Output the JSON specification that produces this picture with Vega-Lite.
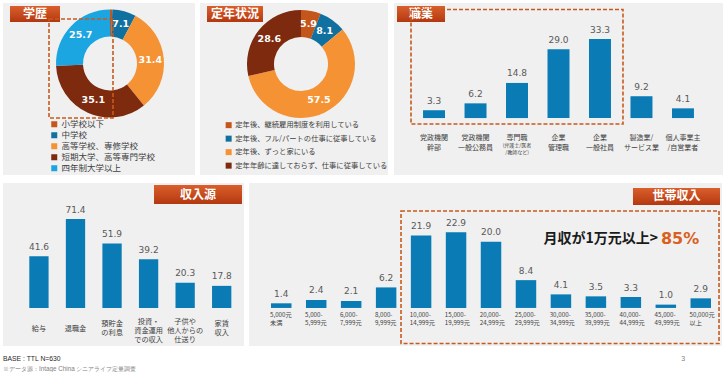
{
  "$schema": "https://vega.github.io/schema/vega-lite/v6.json",
  "background": "white",
  "padding": {"left": 3, "top": 3, "right": 0, "bottom": 0},
  "config": {
    "view": {"fill": "#F0F0F0", "stroke": null},
    "text": {"font": "Noto Sans CJK JP"}
  },
  "spacing": 8,
  "resolve": {"scale": {"x": "independent", "y": "independent", "color": "independent", "theta": "independent"}, "legend": {"color": "independent"}},
  "vconcat": [
    {
      "hconcat": [
        {
          "width": 192, "height": 172,
          "data": {"values": [
            {"k": "小学校以下", "v": 0.7, "i": 1},
            {"k": "中学校", "v": 7.1, "i": 2},
            {"k": "高等学校、専修学校", "v": 31.4, "i": 3},
            {"k": "短期大学、高等専門学校", "v": 35.1, "i": 4},
            {"k": "四年制大学以上", "v": 25.7, "i": 5}
          ]},
          "layer": [
            {
              "mark": {"type": "arc", "innerRadius": 27, "outerRadius": 54},
              "encoding": {
                "x": {"datum": 55.73, "type": "quantitative", "scale": {"domain": [0, 100], "nice": false}, "axis": null},
                "y": {"datum": 35.17, "type": "quantitative", "scale": {"domain": [0, 100], "nice": false, "reverse": true}, "axis": null},
                "theta": {"field": "v", "type": "quantitative", "stack": true},
                "order": {"field": "i", "type": "quantitative"},
                "color": {"field": "k", "type": "nominal",
                  "scale": {"domain": ["小学校以下", "中学校", "高等学校、専修学校", "短期大学、高等専門学校", "四年制大学以上"],
                            "range": ["#C4561C", "#10709F", "#F59233", "#7D2A0E", "#1BA5E1"]},
                  "legend": {"title": null, "orient": "none", "legendX": 47, "legendY": 117, "symbolType": "square", "symbolSize": 36, "symbolStrokeWidth": 0, "symbolOpacity": 1, "labelFontSize": 8.5, "labelFont": "Noto Sans CJK JP", "labelColor": "#404040", "rowPadding": 2, "labelOffset": 3, "padding": 0}}
              }
            },
            {
              "mark": {"type": "text", "radius": 40.5, "fill": "white", "fontWeight": "bold", "fontSize": 9.5, "font": "DejaVu Sans"},
              "encoding": {
                "x": {"datum": 55.73, "type": "quantitative", "scale": {"domain": [0, 100], "nice": false}, "axis": null},
                "y": {"datum": 35.17, "type": "quantitative", "scale": {"domain": [0, 100], "nice": false, "reverse": true}, "axis": null},
                "theta": {"field": "v", "type": "quantitative", "stack": true},
                "order": {"field": "i", "type": "quantitative"},
                "text": {"condition": {"test": "datum.v < 1", "value": ""}, "field": "v", "type": "quantitative", "format": ".1f"}
              }
            },
            {
              "data": {"values": [{}]},
              "mark": {"type": "rect", "fill": {"gradient": "linear", "x1": 0, "y1": 0, "x2": 0, "y2": 1, "stops": [{"offset": 0, "color": "#DA5F2C"}, {"offset": 1, "color": "#B4380F"}]}},
              "encoding": {
                "x": {"datum": 3.65, "type": "quantitative", "scale": {"domain": [0, 100], "nice": false}, "axis": null},
                "x2": {"datum": 29.69},
                "y": {"datum": 1.74, "type": "quantitative", "scale": {"domain": [0, 100], "nice": false, "reverse": true}, "axis": null},
                "y2": {"datum": 11.05}
              }
            },
            {
              "data": {"values": [{}]},
              "mark": {"type": "text", "fill": "white", "fontWeight": "bold", "fontSize": 12, "baseline": "middle"},
              "encoding": {
                "x": {"datum": 16.67, "type": "quantitative", "scale": {"domain": [0, 100], "nice": false}, "axis": null},
                "y": {"datum": 6.4, "type": "quantitative", "scale": {"domain": [0, 100], "nice": false, "reverse": true}, "axis": null},
                "text": {"value": "学歴"}
              }
            },
            {
              "data": {"values": [{}]},
              "mark": {"type": "rect", "filled": false, "stroke": "#C65A1E", "strokeWidth": 1.6, "strokeDash": [4, 2]},
              "encoding": {
                "x": {"datum": 23.96, "type": "quantitative", "scale": {"domain": [0, 100], "nice": false}, "axis": null},
                "x2": {"datum": 57.29},
                "y": {"datum": 9.3, "type": "quantitative", "scale": {"domain": [0, 100], "nice": false, "reverse": true}, "axis": null},
                "y2": {"datum": 66.86}
              }
            }
          ]
        },
        {
          "width": 188, "height": 172,
          "data": {"values": [
            {"k": "定年後、継続雇用制度を利用している", "v": 5.9, "i": 1},
            {"k": "定年後、フル/パートの仕事に従事している", "v": 8.1, "i": 2},
            {"k": "定年後、ずっと家にいる", "v": 57.5, "i": 3},
            {"k": "定年年齢に達しておらず、仕事に従事している", "v": 28.6, "i": 4}
          ]},
          "layer": [
            {
              "mark": {"type": "arc", "innerRadius": 27, "outerRadius": 54},
              "encoding": {
                "x": {"datum": 53.72, "type": "quantitative", "scale": {"domain": [0, 100], "nice": false}, "axis": null},
                "y": {"datum": 35.47, "type": "quantitative", "scale": {"domain": [0, 100], "nice": false, "reverse": true}, "axis": null},
                "theta": {"field": "v", "type": "quantitative", "stack": true},
                "order": {"field": "i", "type": "quantitative"},
                "color": {"field": "k", "type": "nominal",
                  "scale": {"domain": ["定年後、継続雇用制度を利用している", "定年後、フル/パートの仕事に従事している", "定年後、ずっと家にいる", "定年年齢に達しておらず、仕事に従事している"],
                            "range": ["#C4561C", "#10709F", "#F59233", "#7D2A0E"]},
                  "legend": {"title": null, "orient": "none", "legendX": 25, "legendY": 118.5, "symbolType": "square", "symbolSize": 36, "symbolStrokeWidth": 0, "symbolOpacity": 1, "labelFontSize": 7.3, "labelFont": "Noto Sans CJK JP", "labelColor": "#404040", "rowPadding": 5.5, "labelOffset": 3, "padding": 0, "labelLimit": 200}}
              }
            },
            {
              "mark": {"type": "text", "radius": 40.5, "fill": "white", "fontWeight": "bold", "fontSize": 9.5, "font": "DejaVu Sans"},
              "encoding": {
                "x": {"datum": 53.72, "type": "quantitative", "scale": {"domain": [0, 100], "nice": false}, "axis": null},
                "y": {"datum": 35.47, "type": "quantitative", "scale": {"domain": [0, 100], "nice": false, "reverse": true}, "axis": null},
                "theta": {"field": "v", "type": "quantitative", "stack": true},
                "order": {"field": "i", "type": "quantitative"},
                "text": {"field": "v", "type": "quantitative", "format": ".1f"}
              }
            },
            {
              "data": {"values": [{}]},
              "mark": {"type": "rect", "fill": {"gradient": "linear", "x1": 0, "y1": 0, "x2": 0, "y2": 1, "stops": [{"offset": 0, "color": "#DA5F2C"}, {"offset": 1, "color": "#B4380F"}]}},
              "encoding": {
                "x": {"datum": 3.72, "type": "quantitative", "scale": {"domain": [0, 100], "nice": false}, "axis": null},
                "x2": {"datum": 33.51},
                "y": {"datum": 1.74, "type": "quantitative", "scale": {"domain": [0, 100], "nice": false, "reverse": true}, "axis": null},
                "y2": {"datum": 11.05}
              }
            },
            {
              "data": {"values": [{}]},
              "mark": {"type": "text", "fill": "white", "fontWeight": "bold", "fontSize": 12, "baseline": "middle"},
              "encoding": {
                "x": {"datum": 18.62, "type": "quantitative", "scale": {"domain": [0, 100], "nice": false}, "axis": null},
                "y": {"datum": 6.4, "type": "quantitative", "scale": {"domain": [0, 100], "nice": false, "reverse": true}, "axis": null},
                "text": {"value": "定年状況"}
              }
            }
          ]
        },
        {
          "width": 329, "height": 172,
          "layer": [
            {
              "data": {"values": [
                {"cat": "党政機関幹部", "lines": ["党政機関", "幹部"], "v": 3.3},
                {"cat": "党政機関一般公務員", "lines": ["党政機関", "一般公務員"], "v": 6.2},
                {"cat": "専門職", "lines": ["専門職"], "sub": ["(弁護士/医者", "/教師など)"], "v": 14.8},
                {"cat": "企業管理職", "lines": ["企業", "管理職"], "v": 29.0},
                {"cat": "企業一般社員", "lines": ["企業", "一般社員"], "v": 33.3},
                {"cat": "製造業/サービス業", "lines": ["製造業/", "サービス業"], "v": 9.2},
                {"cat": "個人事業主/自営業者", "lines": ["個人事業主", "/自営業者"], "v": 4.1}
              ]},
              "layer": [
                {
                  "mark": {"type": "bar", "color": "#0A7BB5"},
                  "encoding": {
                    "x": {"field": "cat", "type": "nominal", "sort": null, "scale": {"paddingInner": 0.47, "paddingOuter": 0.7, "align": 0.5}, "axis": null},
                    "y": {"field": "v", "type": "quantitative", "scale": {"domain": [-24, 48.5], "nice": false}, "axis": null}
                  }
                },
                {
                  "mark": {"type": "text", "font": "DejaVu Sans", "fontSize": 9, "color": "#595959", "baseline": "alphabetic", "dy": -6.5},
                  "encoding": {
                    "x": {"field": "cat", "type": "nominal", "sort": null, "scale": {"paddingInner": 0.47, "paddingOuter": 0.7, "align": 0.5}, "axis": null},
                    "y": {"field": "v", "type": "quantitative", "scale": {"domain": [-24, 48.5], "nice": false}, "axis": null},
                    "text": {"field": "v", "type": "quantitative", "format": ".1f"}
                  }
                },
                {
                  "mark": {"type": "text", "fontSize": 7, "color": "#404040", "baseline": "top", "dy": 15.5, "lineHeight": 10},
                  "encoding": {
                    "x": {"field": "cat", "type": "nominal", "sort": null, "scale": {"paddingInner": 0.47, "paddingOuter": 0.7, "align": 0.5}, "axis": null},
                    "y": {"datum": 0, "type": "quantitative", "scale": {"domain": [-24, 48.5], "nice": false}, "axis": null},
                    "text": {"field": "lines", "type": "nominal"}
                  }
                },
                {
                  "transform": [{"filter": "datum.sub != null"}],
                  "mark": {"type": "text", "fontSize": 5, "color": "#404040", "baseline": "top", "dy": 24.5, "lineHeight": 7},
                  "encoding": {
                    "x": {"field": "cat", "type": "nominal", "sort": null, "scale": {"paddingInner": 0.47, "paddingOuter": 0.7, "align": 0.5}, "axis": null},
                    "y": {"datum": 0, "type": "quantitative", "scale": {"domain": [-24, 48.5], "nice": false}, "axis": null},
                    "text": {"field": "sub", "type": "nominal"}
                  }
                }
              ]
            },
            {
              "data": {"values": [{}]},
              "layer": [
                {
                  "mark": {"type": "rect", "fill": {"gradient": "linear", "x1": 0, "y1": 0, "x2": 0, "y2": 1, "stops": [{"offset": 0, "color": "#DA5F2C"}, {"offset": 1, "color": "#B4380F"}]}},
                  "encoding": {
                    "x": {"datum": 0.91, "type": "quantitative", "scale": {"domain": [0, 100], "nice": false}, "axis": null},
                    "x2": {"datum": 15.5},
                    "y": {"datum": 1.74, "type": "quantitative", "scale": {"domain": [0, 100], "nice": false, "reverse": true}, "axis": null},
                    "y2": {"datum": 11.05}
                  }
                },
                {
                  "mark": {"type": "text", "fill": "white", "fontWeight": "bold", "fontSize": 12, "baseline": "middle"},
                  "encoding": {
                    "x": {"datum": 8.21, "type": "quantitative", "scale": {"domain": [0, 100], "nice": false}, "axis": null},
                    "y": {"datum": 6.4, "type": "quantitative", "scale": {"domain": [0, 100], "nice": false, "reverse": true}, "axis": null},
                    "text": {"value": "職業"}
                  }
                },
                {
                  "mark": {"type": "rect", "filled": false, "stroke": "#C65A1E", "strokeWidth": 1.6, "strokeDash": [4, 2]},
                  "encoding": {
                    "x": {"datum": 5.17, "type": "quantitative", "scale": {"domain": [0, 100], "nice": false}, "axis": null},
                    "x2": {"datum": 69.6},
                    "y": {"datum": 3.78, "type": "quantitative", "scale": {"domain": [0, 100], "nice": false, "reverse": true}, "axis": null},
                    "y2": {"datum": 70.35}
                  }
                }
              ]
            }
          ],
          "resolve": {"scale": {"x": "independent", "y": "independent"}}
        }
      ],
      "spacing": 5,
      "resolve": {"scale": {"x": "independent", "y": "independent", "color": "independent", "theta": "independent"}, "legend": {"color": "independent"}}
    },
    {
      "hconcat": [
        {
          "width": 241, "height": 163,
          "layer": [
            {
              "data": {"values": [
                {"cat": "給与", "lines": ["給与"], "v": 41.6},
                {"cat": "退職金", "lines": ["退職金"], "v": 71.4},
                {"cat": "預貯金の利息", "lines": ["預貯金", "の利息"], "v": 51.9},
                {"cat": "投資・資金運用での収入", "lines": ["投資・", "資金運用", "での収入"], "v": 39.2},
                {"cat": "子供や他人からの仕送り", "lines": ["子供や", "他人からの", "仕送り"], "v": 20.3},
                {"cat": "家賃収入", "lines": ["家賃", "収入"], "v": 17.8}
              ]},
              "layer": [
                {
                  "mark": {"type": "bar", "color": "#0A7BB5"},
                  "encoding": {
                    "x": {"field": "cat", "type": "nominal", "sort": null, "scale": {"paddingInner": 0.472, "paddingOuter": 0.533, "align": 0.675}, "axis": null},
                    "y": {"field": "v", "type": "quantitative", "scale": {"domain": [-30.5, 100.4], "nice": false}, "axis": null}
                  }
                },
                {
                  "mark": {"type": "text", "font": "DejaVu Sans", "fontSize": 9, "color": "#595959", "baseline": "alphabetic", "dy": -6.5},
                  "encoding": {
                    "x": {"field": "cat", "type": "nominal", "sort": null, "scale": {"paddingInner": 0.472, "paddingOuter": 0.533, "align": 0.675}, "axis": null},
                    "y": {"field": "v", "type": "quantitative", "scale": {"domain": [-30.5, 100.4], "nice": false}, "axis": null},
                    "text": {"field": "v", "type": "quantitative", "format": ".1f"}
                  }
                },
                {
                  "transform": [{"filter": "length(datum.lines) == 1"}],
                  "mark": {"type": "text", "fontSize": 7.2, "color": "#404040", "baseline": "middle", "dy": 21, "lineHeight": 9},
                  "encoding": {
                    "x": {"field": "cat", "type": "nominal", "sort": null, "scale": {"paddingInner": 0.472, "paddingOuter": 0.533, "align": 0.675}, "axis": null},
                    "y": {"datum": 0, "type": "quantitative", "scale": {"domain": [-30.5, 100.4], "nice": false}, "axis": null},
                    "text": {"field": "lines", "type": "nominal"}
                  }
                },
                {
                  "transform": [{"filter": "length(datum.lines) == 2"}],
                  "mark": {"type": "text", "fontSize": 7.2, "color": "#404040", "baseline": "middle", "dy": 16, "lineHeight": 9},
                  "encoding": {
                    "x": {"field": "cat", "type": "nominal", "sort": null, "scale": {"paddingInner": 0.472, "paddingOuter": 0.533, "align": 0.675}, "axis": null},
                    "y": {"datum": 0, "type": "quantitative", "scale": {"domain": [-30.5, 100.4], "nice": false}, "axis": null},
                    "text": {"field": "lines", "type": "nominal"}
                  }
                },
                {
                  "transform": [{"filter": "length(datum.lines) == 3"}],
                  "mark": {"type": "text", "fontSize": 7.2, "color": "#404040", "baseline": "middle", "dy": 14, "lineHeight": 9},
                  "encoding": {
                    "x": {"field": "cat", "type": "nominal", "sort": null, "scale": {"paddingInner": 0.472, "paddingOuter": 0.533, "align": 0.675}, "axis": null},
                    "y": {"datum": 0, "type": "quantitative", "scale": {"domain": [-30.5, 100.4], "nice": false}, "axis": null},
                    "text": {"field": "lines", "type": "nominal"}
                  }
                }
              ]
            },
            {
              "data": {"values": [{}]},
              "layer": [
                {
                  "mark": {"type": "rect", "fill": {"gradient": "linear", "x1": 0, "y1": 0, "x2": 0, "y2": 1, "stops": [{"offset": 0, "color": "#DA5F2C"}, {"offset": 1, "color": "#B4380F"}]}},
                  "encoding": {
                    "x": {"datum": 62.66, "type": "quantitative", "scale": {"domain": [0, 100], "nice": false}, "axis": null},
                    "x2": {"datum": 99.17},
                    "y": {"datum": 1.23, "type": "quantitative", "scale": {"domain": [0, 100], "nice": false, "reverse": true}, "axis": null},
                    "y2": {"datum": 12.88}
                  }
                },
                {
                  "mark": {"type": "text", "fill": "white", "fontWeight": "bold", "fontSize": 12, "baseline": "middle"},
                  "encoding": {
                    "x": {"datum": 80.91, "type": "quantitative", "scale": {"domain": [0, 100], "nice": false}, "axis": null},
                    "y": {"datum": 7.06, "type": "quantitative", "scale": {"domain": [0, 100], "nice": false, "reverse": true}, "axis": null},
                    "text": {"value": "収入源"}
                  }
                }
              ]
            }
          ],
          "resolve": {"scale": {"x": "independent", "y": "independent"}}
        },
        {
          "width": 473, "height": 163,
          "layer": [
            {
              "data": {"values": [
                {"cat": "5,000元未満", "lines": ["5,000元", "未満"], "v": 1.4},
                {"cat": "5,000-5,999元", "lines": ["5,000-", "5,999元"], "v": 2.4},
                {"cat": "6,000-7,999元", "lines": ["6,000-", "7,999元"], "v": 2.1},
                {"cat": "8,000-9,999元", "lines": ["8,000-", "9,999元"], "v": 6.2},
                {"cat": "10,000-14,999元", "lines": ["10,000-", "14,999元"], "v": 21.9},
                {"cat": "15,000-19,999元", "lines": ["15,000-", "19,999元"], "v": 22.9},
                {"cat": "20,000-24,999元", "lines": ["20,000-", "24,999元"], "v": 20.0},
                {"cat": "25,000-29,999元", "lines": ["25,000-", "29,999元"], "v": 8.4},
                {"cat": "30,000-34,999元", "lines": ["30,000-", "34,999元"], "v": 4.1},
                {"cat": "35,000-39,999元", "lines": ["35,000-", "39,999元"], "v": 3.5},
                {"cat": "40,000-44,999元", "lines": ["40,000-", "44,999元"], "v": 3.3},
                {"cat": "45,000-49,999元", "lines": ["45,000-", "49,999元"], "v": 1.0},
                {"cat": "50,000元以上", "lines": ["50,000元", "以上"], "v": 2.9}
              ]},
              "layer": [
                {
                  "mark": {"type": "bar", "color": "#0A7BB5"},
                  "encoding": {
                    "x": {"field": "cat", "type": "nominal", "sort": null, "scale": {"paddingInner": 0.414, "paddingOuter": 0.472, "align": 0.667}, "axis": null},
                    "y": {"field": "v", "type": "quantitative", "scale": {"domain": [-11.5, 37.75], "nice": false}, "axis": null}
                  }
                },
                {
                  "mark": {"type": "text", "font": "DejaVu Sans", "fontSize": 9, "color": "#595959", "baseline": "alphabetic", "dy": -6.5},
                  "encoding": {
                    "x": {"field": "cat", "type": "nominal", "sort": null, "scale": {"paddingInner": 0.414, "paddingOuter": 0.472, "align": 0.667}, "axis": null},
                    "y": {"field": "v", "type": "quantitative", "scale": {"domain": [-11.5, 37.75], "nice": false}, "axis": null},
                    "text": {"field": "v", "type": "quantitative", "format": ".1f"}
                  }
                },
                {
                  "mark": {"type": "text", "fontSize": 6.2, "color": "#404040", "baseline": "middle", "align": "left", "dy": 7.5, "dx": -1, "lineHeight": 8},
                  "encoding": {
                    "x": {"field": "cat", "type": "nominal", "sort": null, "bandPosition": 0, "scale": {"paddingInner": 0.414, "paddingOuter": 0.472, "align": 0.667}, "axis": null},
                    "y": {"datum": 0, "type": "quantitative", "scale": {"domain": [-11.5, 37.75], "nice": false}, "axis": null},
                    "text": {"field": "lines", "type": "nominal"}
                  }
                }
              ]
            },
            {
              "data": {"values": [{}]},
              "layer": [
                {
                  "mark": {"type": "rect", "fill": {"gradient": "linear", "x1": 0, "y1": 0, "x2": 0, "y2": 1, "stops": [{"offset": 0, "color": "#DA5F2C"}, {"offset": 1, "color": "#B4380F"}]}},
                  "encoding": {
                    "x": {"datum": 81.18, "type": "quantitative", "scale": {"domain": [0, 100], "nice": false}, "axis": null},
                    "x2": {"datum": 99.58},
                    "y": {"datum": 3.07, "type": "quantitative", "scale": {"domain": [0, 100], "nice": false, "reverse": true}, "axis": null},
                    "y2": {"datum": 13.5}
                  }
                },
                {
                  "mark": {"type": "text", "fill": "white", "fontWeight": "bold", "fontSize": 12, "baseline": "middle"},
                  "encoding": {
                    "x": {"datum": 90.38, "type": "quantitative", "scale": {"domain": [0, 100], "nice": false}, "axis": null},
                    "y": {"datum": 8.28, "type": "quantitative", "scale": {"domain": [0, 100], "nice": false, "reverse": true}, "axis": null},
                    "text": {"value": "世帯収入"}
                  }
                },
                {
                  "mark": {"type": "rect", "filled": false, "stroke": "#C65A1E", "strokeWidth": 1.6, "strokeDash": [4, 2]},
                  "encoding": {
                    "x": {"datum": 32.14, "type": "quantitative", "scale": {"domain": [0, 100], "nice": false}, "axis": null},
                    "x2": {"datum": 99.37},
                    "y": {"datum": 17.18, "type": "quantitative", "scale": {"domain": [0, 100], "nice": false, "reverse": true}, "axis": null},
                    "y2": {"datum": 98.5}
                  }
                },
                {
                  "mark": {"type": "text", "fill": "#1A1A1A", "fontWeight": "bold", "fontSize": 14, "baseline": "middle", "align": "right"},
                  "encoding": {
                    "x": {"datum": 86.47, "type": "quantitative", "scale": {"domain": [0, 100], "nice": false}, "axis": null},
                    "y": {"datum": 34.54, "type": "quantitative", "scale": {"domain": [0, 100], "nice": false, "reverse": true}, "axis": null},
                    "text": {"value": "月収が1万元以上>"}
                  }
                },
                {
                  "mark": {"type": "text", "fill": "#D9601E", "fontWeight": "bold", "fontSize": 16, "font": "DejaVu Sans", "baseline": "middle", "align": "left"},
                  "encoding": {
                    "x": {"datum": 87.1, "type": "quantitative", "scale": {"domain": [0, 100], "nice": false}, "axis": null},
                    "y": {"datum": 34.54, "type": "quantitative", "scale": {"domain": [0, 100], "nice": false, "reverse": true}, "axis": null},
                    "text": {"value": "85%"}
                  }
                }
              ]
            }
          ],
          "resolve": {"scale": {"x": "independent", "y": "independent"}}
        }
      ],
      "spacing": 5,
      "resolve": {"scale": {"x": "independent", "y": "independent"}}
    },
    {
      "width": 722, "height": 18,
      "view": {"fill": "white", "stroke": null},
      "data": {"values": [{}]},
      "layer": [
        {
          "mark": {"type": "text", "fontSize": 6.8, "color": "#262626", "baseline": "middle", "align": "left", "font": "Liberation Sans"},
          "encoding": {
            "x": {"datum": 0, "type": "quantitative", "scale": {"domain": [0, 100], "nice": false}, "axis": null},
            "y": {"datum": 11, "type": "quantitative", "scale": {"domain": [0, 100], "nice": false, "reverse": true}, "axis": null},
            "text": {"value": "BASE : TTL N=630"}
          }
        },
        {
          "mark": {"type": "text", "fontSize": 6.3, "color": "#7F7F7F", "baseline": "middle", "align": "left", "font": "Liberation Sans"},
          "encoding": {
            "x": {"datum": 0, "type": "quantitative", "scale": {"domain": [0, 100], "nice": false}, "axis": null},
            "y": {"datum": 66.7, "type": "quantitative", "scale": {"domain": [0, 100], "nice": false, "reverse": true}, "axis": null},
            "text": {"value": "※データ源：Intage China シニアライフ定量調査"}
          }
        },
        {
          "mark": {"type": "text", "fontSize": 7, "color": "#7F7F7F", "baseline": "middle", "align": "center", "font": "Liberation Sans"},
          "encoding": {
            "x": {"datum": 94.2, "type": "quantitative", "scale": {"domain": [0, 100], "nice": false}, "axis": null},
            "y": {"datum": 11, "type": "quantitative", "scale": {"domain": [0, 100], "nice": false, "reverse": true}, "axis": null},
            "text": {"value": "3"}
          }
        }
      ]
    }
  ]
}
